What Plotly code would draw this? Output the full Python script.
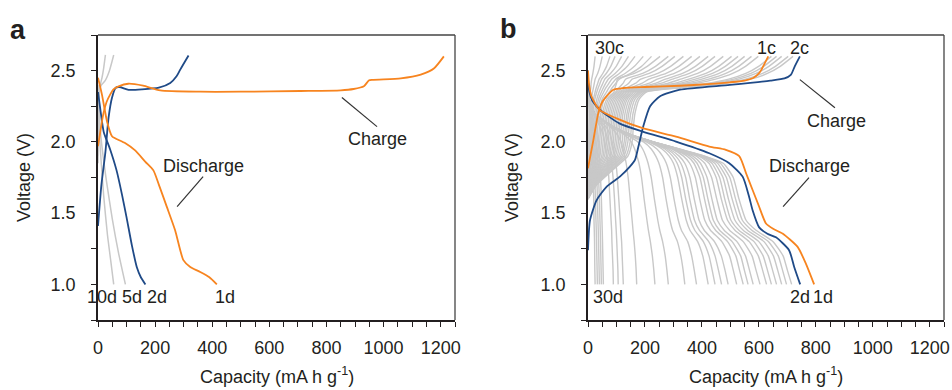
import plotly.graph_objects as go

# ---------------- Panel a : main cycles ----------------
a_1c_cap = [0, 8, 19, 30, 42, 55, 72, 106, 158, 218, 358, 500, 709, 850, 895, 931, 948, 960, 1060, 1130, 1176, 1211]
a_1c_v = [1.97, 2.07, 2.20, 2.28, 2.33, 2.37, 2.39, 2.408, 2.394, 2.361, 2.352, 2.352, 2.357, 2.362, 2.371, 2.39, 2.43, 2.435, 2.446, 2.472, 2.515, 2.60]
a_1d_cap = [0, 14, 32, 49, 60, 96, 130, 166, 194, 213, 241, 270, 299, 323, 358, 390, 416]
a_1d_v = [2.45, 2.33, 2.14, 2.04, 2.025, 1.99, 1.94, 1.86, 1.80, 1.70, 1.544, 1.38, 1.17, 1.122, 1.087, 1.05, 1.0]
a_2c_cap = [0, 12, 26, 37, 49, 62, 75, 107, 154, 213, 253, 275, 288, 317]
a_2c_v = [1.41, 1.70, 1.93, 2.17, 2.31, 2.38, 2.385, 2.365, 2.368, 2.38, 2.413, 2.46, 2.507, 2.606]
a_2d_cap = [0, 10, 20, 42, 65, 84, 100, 119, 136, 150, 166]
a_2d_v = [2.35, 2.20, 2.07, 1.95, 1.80, 1.63, 1.47, 1.27, 1.12, 1.05, 1.0]
# gray cycles in panel a
a_5c_cap = [0, 1, 3, 6, 12, 25, 40, 55]
a_5c_v = [1.90, 2.10, 2.30, 2.37, 2.40, 2.43, 2.50, 2.61]
a_10c_cap = [0, 1, 3, 8, 14, 20, 26]
a_10c_v = [1.85, 2.10, 2.30, 2.40, 2.45, 2.52, 2.61]
a_5d_cap = [0, 4, 12, 30, 50, 72, 96]
a_5d_v = [2.40, 2.20, 2.00, 1.72, 1.46, 1.22, 1.0]
a_10d_cap = [0, 3, 8, 20, 33, 45, 55]
a_10d_v = [2.35, 2.15, 1.95, 1.62, 1.35, 1.16, 1.0]

# ---------------- Panel b : main cycles ----------------
b_1c_cap = [0, 10, 19, 36, 50, 65, 89, 124, 200, 323, 420, 498, 550, 580, 600, 609, 633]
b_1c_v = [1.815, 1.92, 2.014, 2.20, 2.28, 2.32, 2.366, 2.378, 2.385, 2.394, 2.405, 2.418, 2.43, 2.448, 2.48, 2.507, 2.60]
b_2c_cap = [0, 7, 30, 65, 112, 147, 165, 177, 194, 218, 253, 323, 498, 640, 690, 712, 726, 744]
b_2c_v = [1.24, 1.45, 1.59, 1.685, 1.756, 1.826, 1.873, 1.967, 2.108, 2.25, 2.32, 2.366, 2.40, 2.43, 2.445, 2.47, 2.53, 2.60]
b_1d_cap = [0, 4, 12, 40, 98, 192, 309, 426, 484, 531, 555, 578, 600, 625, 650, 683, 736, 765, 794]
b_1d_v = [2.50, 2.40, 2.32, 2.225, 2.167, 2.096, 2.037, 1.967, 1.944, 1.90, 1.78, 1.662, 1.55, 1.427, 1.39, 1.357, 1.263, 1.146, 1.0]
b_2d_cap = [0, 5, 15, 45, 110, 192, 309, 426, 496, 543, 565, 578, 601, 630, 660, 706, 724, 745]
b_2d_v = [2.42, 2.35, 2.29, 2.22, 2.13, 2.072, 2.002, 1.92, 1.85, 1.756, 1.62, 1.52, 1.40, 1.355, 1.33, 1.24, 1.122, 1.0]

# ---------------- Panel b : gray cycles 3-30 ----------------
# voltage levels and the capacity at which each cycle reaches them
charge_levels = [1.60, 1.70, 1.80, 1.90, 2.00, 2.10, 2.20, 2.30, 2.35, 2.38, 2.41, 2.44, 2.48, 2.53, 2.60]
gray_charge_caps = [
    [0, 31, 85, 140, 155, 159, 165, 180, 205, 333, 479, 570, 630, 675, 720],
    [0, 30, 81, 133, 148, 152, 158, 173, 198, 322, 464, 553, 613, 658, 703],
    [0, 28, 77, 126, 140, 144, 150, 165, 190, 309, 445, 530, 590, 635, 680],
    [0, 27, 73, 120, 133, 137, 143, 158, 183, 298, 430, 512, 572, 617, 662],
    [0, 25, 70, 114, 127, 131, 137, 152, 177, 288, 415, 494, 554, 599, 644],
    [0, 24, 66, 108, 120, 124, 130, 145, 170, 267, 378, 448, 508, 553, 598],
    [0, 23, 62, 102, 113, 117, 123, 138, 163, 254, 359, 424, 484, 529, 574],
    [0, 21, 59, 96, 107, 111, 117, 132, 157, 242, 339, 400, 460, 505, 550],
    [0, 20, 56, 91, 101, 105, 111, 126, 151, 230, 321, 377, 437, 482, 527],
    [0, 19, 52, 86, 95, 99, 105, 120, 145, 218, 302, 354, 414, 459, 504],
    [0, 18, 49, 80, 89, 93, 99, 114, 139, 204, 279, 325, 385, 430, 475],
    [0, 17, 46, 75, 83, 87, 93, 108, 133, 190, 255, 296, 356, 401, 446],
    [0, 15, 42, 69, 77, 81, 87, 102, 127, 178, 236, 272, 332, 377, 422],
    [0, 14, 39, 64, 71, 75, 81, 96, 121, 164, 213, 243, 303, 348, 393],
    [0, 13, 36, 58, 65, 69, 75, 90, 115, 150, 189, 214, 274, 319, 364],
    [0, 12, 32, 53, 59, 63, 69, 84, 109, 136, 166, 185, 245, 290, 335],
    [0, 11, 29, 48, 53, 57, 63, 78, 103, 121, 142, 155, 215, 260, 305],
    [0, 9, 26, 42, 47, 51, 57, 72, 97, 109, 123, 132, 192, 237, 282],
    [0, 8, 23, 37, 41, 45, 51, 66, 91, 95, 100, 103, 163, 208, 253],
    [0, 7, 20, 32, 36, 40, 45, 57, 75, 85, 97, 110, 150, 188, 223],
    [0, 6, 17, 28, 31, 34, 39, 50, 65, 74, 85, 97, 130, 163, 194],
    [0, 5, 14, 23, 26, 29, 33, 43, 55, 63, 73, 83, 110, 138, 165],
    [0, 4, 12, 19, 21, 24, 28, 37, 47, 54, 62, 71, 95, 119, 142],
    [0, 3, 9, 15, 17, 20, 23, 31, 39, 45, 52, 59, 79, 99, 118],
    [0, 3, 7, 12, 13, 15, 18, 24, 31, 36, 42, 48, 64, 80, 95],
    [0, 2, 5, 8, 9, 11, 14, 19, 25, 29, 34, 39, 52, 65, 77],
    [0, 1, 3, 4, 5, 7, 9, 12, 16, 19, 22, 25, 34, 42, 50],
    [0, 0.5, 1, 2, 2, 3, 4, 6, 8, 10, 11, 13, 17, 21, 25],
]
discharge_levels = [2.50, 2.40, 2.30, 2.20, 2.10, 2.05, 2.00, 1.95, 1.90, 1.85, 1.75, 1.60, 1.45, 1.38, 1.30, 1.20, 1.10, 1.00]
gray_discharge_caps = [
    [0, 1, 4, 22, 95, 150, 230, 320, 410, 475, 510, 530, 555, 590, 650, 685, 700, 715],
    [0, 1, 4, 22, 95, 150, 230, 320, 408, 465, 498, 518, 542, 575, 634, 668, 683, 697],
    [0, 1, 4, 22, 95, 150, 229, 318, 405, 455, 486, 506, 530, 560, 618, 651, 666, 680],
    [0, 1, 4, 22, 94, 149, 228, 316, 400, 445, 474, 493, 516, 545, 600, 633, 648, 662],
    [0, 1, 4, 22, 94, 149, 228, 314, 395, 435, 462, 480, 502, 530, 583, 615, 630, 644],
    [0, 1, 4, 22, 94, 148, 227, 312, 390, 425, 450, 468, 490, 516, 566, 598, 613, 627],
    [0, 1, 4, 22, 94, 148, 226, 310, 380, 410, 434, 452, 472, 497, 545, 576, 590, 604],
    [0, 1, 4, 22, 93, 147, 225, 308, 368, 395, 418, 435, 454, 478, 523, 553, 567, 580],
    [0, 1, 4, 22, 93, 147, 224, 305, 358, 383, 405, 421, 440, 462, 506, 536, 549, 562],
    [0, 1, 4, 22, 93, 146, 223, 300, 348, 372, 393, 409, 427, 448, 490, 519, 532, 545],
    [0, 1, 4, 21, 92, 146, 222, 295, 335, 357, 377, 392, 410, 430, 470, 497, 510, 522],
    [0, 1, 4, 21, 92, 145, 220, 285, 320, 340, 358, 373, 390, 408, 444, 468, 481, 492],
    [0, 1, 4, 21, 92, 145, 218, 278, 308, 326, 343, 357, 374, 391, 424, 446, 458, 469],
    [0, 1, 4, 21, 91, 144, 216, 270, 297, 313, 329, 343, 360, 375, 405, 425, 436, 446],
    [0, 1, 4, 21, 91, 143, 213, 260, 285, 300, 315, 329, 345, 358, 385, 403, 413, 422],
    [0, 1, 4, 21, 90, 142, 205, 242, 262, 275, 289, 302, 317, 328, 350, 364, 373, 381],
    [0, 1, 4, 21, 90, 140, 195, 222, 238, 249, 262, 274, 288, 297, 314, 326, 334, 340],
    [0, 1, 4, 20, 89, 135, 175, 192, 203, 211, 222, 233, 245, 252, 262, 271, 277, 282],
    [0, 1, 4, 20, 88, 128, 152, 164, 172, 179, 188, 197, 207, 212, 219, 226, 231, 235],
    [0, 1, 4, 20, 82, 103, 116, 123, 129, 134, 141, 148, 155, 158, 162, 166, 169, 171],
    [0, 1, 4, 19, 65, 78, 85, 90, 94, 98, 103, 108, 113, 115, 118, 120, 122, 124],
    [0, 1, 4, 18, 55, 65, 72, 77, 80, 83, 88, 93, 97, 99, 101, 103, 105, 106],
    [0, 1, 4, 17, 44, 53, 59, 63, 66, 69, 73, 77, 81, 83, 84, 86, 88, 89],
    [0, 1, 4, 14, 26, 31, 35, 38, 40, 42, 44, 47, 49, 50, 51, 52, 53, 54],
    [0, 1, 3, 11, 21, 25, 28, 31, 33, 35, 37, 40, 42, 43, 44, 45, 46, 47],
    [0, 1, 3, 9, 16, 19, 22, 25, 27, 28, 31, 33, 35, 36, 37, 38, 39, 40],
    [0, 1, 2, 7, 12, 15, 17, 19, 21, 22, 24, 26, 28, 29, 30, 31, 32, 33],
    [0, 1, 2, 5, 9, 11, 12, 14, 15, 16, 18, 20, 21, 22, 23, 23.5, 24, 25],
]

# ---------------- styling ----------------
ORANGE = "#f7841f"
BLUE = "#1f4a87"
GRAY = "#c8c8c8"
INK = "#231f20"
FONT = "Liberation Sans, Arial, sans-serif"
W, H = 952, 390

fig = go.Figure()


def add(xs, ys, color, width, xa, ya, smooth=0.6):
    fig.add_trace(go.Scatter(
        x=xs, y=ys, mode="lines",
        line=dict(color=color, width=width, shape="spline", smoothing=smooth),
        xaxis=xa, yaxis=ya, hoverinfo="skip", showlegend=False))


# panel a
for cx, cy in [(a_10c_cap, a_10c_v), (a_5c_cap, a_5c_v), (a_10d_cap, a_10d_v), (a_5d_cap, a_5d_v)]:
    add(cx, cy, GRAY, 1.5, "x", "y")
add(a_2c_cap, a_2c_v, BLUE, 1.8, "x", "y")
add(a_2d_cap, a_2d_v, BLUE, 1.8, "x", "y")
add(a_1c_cap, a_1c_v, ORANGE, 1.8, "x", "y")
add(a_1d_cap, a_1d_v, ORANGE, 1.8, "x", "y")

# panel b
for caps in gray_charge_caps:
    add(caps, charge_levels, GRAY, 1.4, "x2", "y2", 0.5)
for caps in gray_discharge_caps:
    add(caps, discharge_levels, GRAY, 1.4, "x2", "y2", 0.5)
add(b_2c_cap, b_2c_v, BLUE, 1.8, "x2", "y2")
add(b_2d_cap, b_2d_v, BLUE, 1.8, "x2", "y2")
add(b_1c_cap, b_1c_v, ORANGE, 1.8, "x2", "y2")
add(b_1d_cap, b_1d_v, ORANGE, 1.8, "x2", "y2")

y_dom = [(H - 320) / H, (H - 35) / H]
tickfont = dict(family=FONT, size=18, color=INK)


def xaxis(dom, anchor):
    return dict(domain=dom, anchor=anchor, range=[0, 1250], tick0=0, dtick=200,
                ticks="outside", ticklen=5, tickwidth=1.3, tickcolor=INK,
                showline=True, linecolor=INK, linewidth=1.8, showgrid=False,
                zeroline=False, tickfont=tickfont, ticklabelstandoff=5, automargin=False,
                minor=dict(tick0=0, dtick=50, ticks="outside", ticklen=5,
                           tickwidth=1.3, tickcolor=INK, showgrid=False))


def yaxis(anchor):
    return dict(domain=y_dom, anchor=anchor, range=[0.75, 2.75], tick0=1.0, dtick=0.5,
                tickformat=".1f", ticks="outside", ticklen=5, tickwidth=1.3,
                tickcolor=INK, showline=True, linecolor=INK, linewidth=1.8,
                showgrid=False, zeroline=False, tickfont=tickfont, ticklabelstandoff=12,
                automargin=False,
                minor=dict(tick0=0.75, dtick=0.25, ticks="outside", ticklen=5,
                           tickwidth=1.3, tickcolor=INK, showgrid=False))


fig.update_layout(
    width=W, height=H, margin=dict(l=0, r=0, t=0, b=0, autoexpand=False),
    paper_bgcolor="white", plot_bgcolor="white",
    font=dict(family=FONT, size=18, color=INK),
    xaxis=xaxis([98 / W, 455 / W], "y"),
    yaxis=yaxis("x"),
    xaxis2=xaxis([588 / W, 944 / W], "y2"),
    yaxis2=yaxis("x2"),
    showlegend=False,
)

shapes = []
for xr, yr in [("x", "y"), ("x2", "y2")]:
    shapes.append(dict(type="line", xref=xr + " domain", yref=yr + " domain",
                       x0=0, x1=1, y0=1, y1=1, line=dict(color="#444", width=1.3)))
    shapes.append(dict(type="line", xref=xr + " domain", yref=yr + " domain",
                       x0=1, x1=1, y0=0, y1=1, line=dict(color="#444", width=1.3)))
# leader lines
for xr, yr, x0, y0, x1, y1 in [
    ("x", "y", 854, 2.311, 977, 2.107),
    ("x", "y", 368, 1.756, 277, 1.546),
    ("x2", "y2", 744, 2.437, 867, 2.240),
    ("x2", "y2", 776, 1.749, 685, 1.546),
]:
    shapes.append(dict(type="line", xref=xr, yref=yr, x0=x0, y0=y0, x1=x1, y1=y1,
                       line=dict(color="#333", width=1.2)))
fig.update_layout(shapes=shapes)

ann = []


def label(text, x, y, xr, yr, size=18, bold=False):
    ann.append(dict(text=("<b>%s</b>" % text) if bold else text, x=x, y=y, xref=xr, yref=yr,
                    showarrow=False, xanchor="center", yanchor="middle",
                    font=dict(family=FONT, size=size, color=INK)))


# panel a curve labels
for t, x in [("10c", -2), ("5c", 98), ("2c", 329), ("1c", 1232)]:
    label(t, x, 2.844, "x", "y")
for t, x in [("10d", 14), ("5d", 119), ("2d", 207), ("1d", 445)]:
    label(t, x, 0.914, "x", "y")
label("Charge", 977, 2.023, "x", "y")
label("Discharge", 368, 1.833, "x", "y")
# panel b curve labels
for t, x in [("30c", 74), ("1c", 628), ("2c", 741)]:
    label(t, x, 2.661, "x2", "y2")
for t, x in [("30d", 70), ("2d", 744), ("1d", 825)]:
    label(t, x, 0.914, "x2", "y2")
label("Charge", 871, 2.149, "x2", "y2")
label("Discharge", 776, 1.833, "x2", "y2")

# axis titles and panel letters
for cx in (276.5, 766):
    label("Capacity (mA h g<sup>-1</sup>)", cx / W, 1 - 375 / H, "paper", "paper")
for cx, cy in ((24, 178), (512, 178)):
    ann.append(dict(text="Voltage (V)", x=cx / W, y=1 - cy / H, xref="paper", yref="paper",
                    showarrow=False, textangle=-90, xanchor="center", yanchor="middle",
                    font=dict(family=FONT, size=18, color=INK)))
label("a", 18 / W, 1 - 30 / H, "paper", "paper", size=27, bold=True)
label("b", 508 / W, 1 - 29 / H, "paper", "paper", size=27, bold=True)
fig.update_layout(annotations=ann)

fig.write_html("out.html", config={"displayModeBar": False},
               post_script="document.body.style.margin='0';document.body.style.padding='0';document.body.style.overflow='hidden';")
